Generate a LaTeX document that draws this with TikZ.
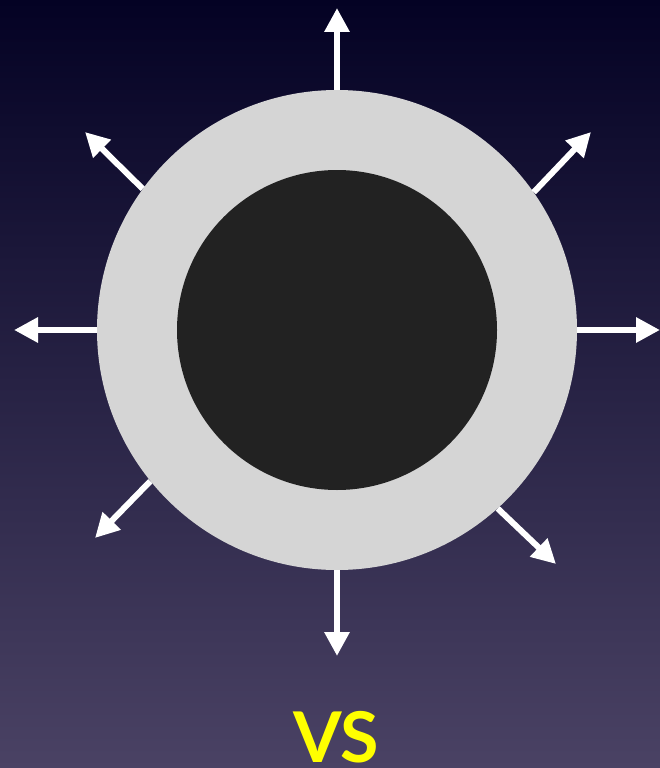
\documentclass[tikz,border=0pt]{standalone}
\usepackage{fontspec}
\setmainfont{Lato}
\usetikzlibrary{arrows.meta}
\definecolor{bgtop}{RGB}{4,2,36}
\definecolor{bgbot}{RGB}{74,66,100}
\definecolor{ring}{RGB}{213,213,213}
\definecolor{core}{RGB}{34,34,34}
\definecolor{vsyellow}{RGB}{255,255,0}
\tikzset{
  ray/.style={draw=white, line width=6pt, -{Triangle[length=24pt,width=24pt]}},
  disc/.style={circle, inner sep=0pt, draw=none},
}
\begin{document}
\begin{tikzpicture}[x=1pt,y=-1pt]
\shade[top color=bgtop, bottom color=bgbot] (0,0) rectangle (660,768);
\useasboundingbox (0,0) rectangle (660,768);
\node[disc, fill=ring, minimum size=480pt] (outer) at (337,330) {};
\node[disc, fill=core, minimum size=320pt] (inner) at (337,330) {};
\coordinate (tN) at (337,8);
\coordinate (tS) at (337,656);
\coordinate (tW) at (14,330);
\coordinate (tE) at (660,330);
\coordinate (tNW) at (85,132);
\coordinate (tNE) at (591,132);
\coordinate (tSW) at (95,538);
\coordinate (tSE) at (556,564);
\draw[ray] (outer.90) -- (tN);
\draw[ray] (outer.270) -- (tS);
\draw[ray] (outer.180) -- (tW);
\draw[ray] (outer.0) -- (tE);
\draw[ray] (outer.144.3) -- (tNW);
\draw[ray] (outer.35.7) -- (tNE);
\draw[ray] (outer.219.4) -- (tSW);
\draw[ray] (outer.312.6) -- (tSE);
\node[text=vsyellow, font=\fontsize{70}{70}\selectfont\bfseries, inner sep=0pt, anchor=base] (vs) at (336,762) {VS};
\end{tikzpicture}
\end{document}
